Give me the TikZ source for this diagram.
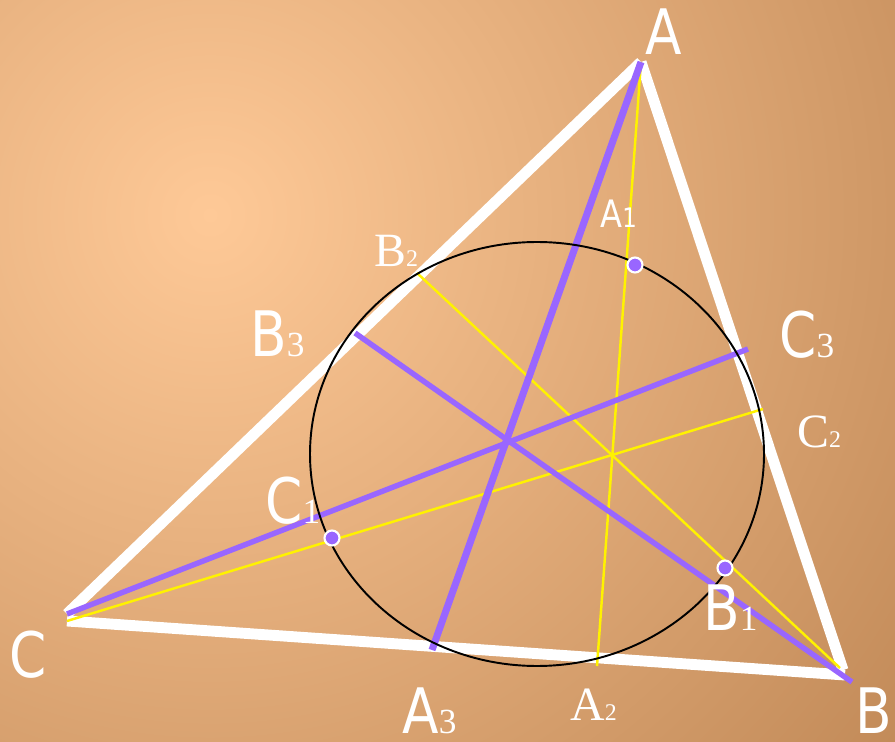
\documentclass[tikz,border=0pt]{standalone}
\usepackage{fontspec}
\setmainfont{Liberation Serif}
\newfontfamily\lblsans[FakeStretch=0.85]{DejaVu Sans}
\usepackage{tikz}
\definecolor{bginner}{RGB}{254,201,151}
\definecolor{bgouter}{RGB}{187,131,81}
\definecolor{cevpurple}{RGB}{153,102,255}
\pgfdeclareradialshading{bgglow}{\pgfpoint{0bp}{0bp}}{color(0bp)=(bginner); color(28bp)=(bgouter); color(50bp)=(bgouter)}
\newcommand{\vlab}[2]{{\lblsans\fontsize{35.7}{40}\selectfont #1}{\fontsize{20.1}{24}\selectfont #2}}
\newcommand{\slab}[2]{{\fontsize{27.2}{30}\selectfont #1}{\fontsize{13.6}{16}\selectfont #2}}
\newcommand{\ilab}[2]{{\lblsans\fontsize{21.5}{24}\selectfont #1\fontsize{15.3}{18}\selectfont #2}}

\begin{document}
\begin{tikzpicture}[x=0.02cm, y=-0.02cm,
  side/.style={white, line width=6.2pt},
  cev/.style={cevpurple, line width=3.1pt},
  ray/.style={yellow, line width=1.4pt},
  foot/.style={circle, fill=cevpurple, draw=white, line width=1.2pt, minimum size=0.3cm, inner sep=0pt},
  lbl/.style={anchor=base west, inner sep=0pt, text=white}]
\useasboundingbox (0,0) rectangle (895,742);
\begin{scope}
  \clip (0,0) rectangle (895,742);
  \shade[shading=bgglow] (210,215) circle (870);
\end{scope}
\coordinate (A) at (641,62);
\coordinate (B) at (843,670);
\coordinate (C) at (67,614);
\coordinate (Cb) at (67,621);
\coordinate (Bc) at (845,675);
\coordinate (Bp) at (852,682);
\coordinate (A2) at (597,666);
\coordinate (A3) at (432,650);
\coordinate (B2) at (417,273);
\coordinate (B3) at (355,333);
\coordinate (C2) at (763,409);
\coordinate (C3) at (748,349);
\coordinate (By) at (840,668);
 \draw [side] (A)--(C);
 \draw [side] (A)--(B);
 \draw [side] (Cb)--(Bc);
  \draw [ray] (A)--(A2);
  \draw [ray] (B2)--(By);
  \draw [ray] (Cb)--(C2);
   \draw [cev, line width=4pt] (A)--(A3);
   \draw [cev] (C)--(C3);
   \draw [cev] (B3)--(Bp);
\draw [black, line width=1.1pt] (537,454) ellipse [x radius=227, y radius=212];
\node [foot] (A1) at (635,265) {};
\node [foot] (B1) at (725,568) {};
\node [foot] (C1) at (332,538) {};
\node [lbl] (lA) at (645,55) {\vlab{A}{}};
\node [lbl] (lB) at (855,733) {\vlab{B}{}};
\node [lbl] (lC) at (9,677) {\vlab{C}{}};
\node [lbl] (lA1) at (600,228) {\ilab{A}{1}};
\node [lbl] (lB1) at (703,630) {\vlab{B}{1}};
\node [lbl] (lC1) at (265,523) {\vlab{C}{1}};
\node [lbl] (lA2) at (570,720) {\slab{A}{2}};
\node [lbl] (lB2) at (374,267) {\slab{B}{2}};
\node [lbl] (lC2) at (797,448) {\slab{C}{2}};
\node [lbl] (lA3) at (402,733) {\vlab{A}{3}};
\node [lbl] (lB3) at (250,357) {\vlab{B}{3}};
\node [lbl] (lC3) at (779,358) {\vlab{C}{3}};
\end{tikzpicture}
\end{document}
